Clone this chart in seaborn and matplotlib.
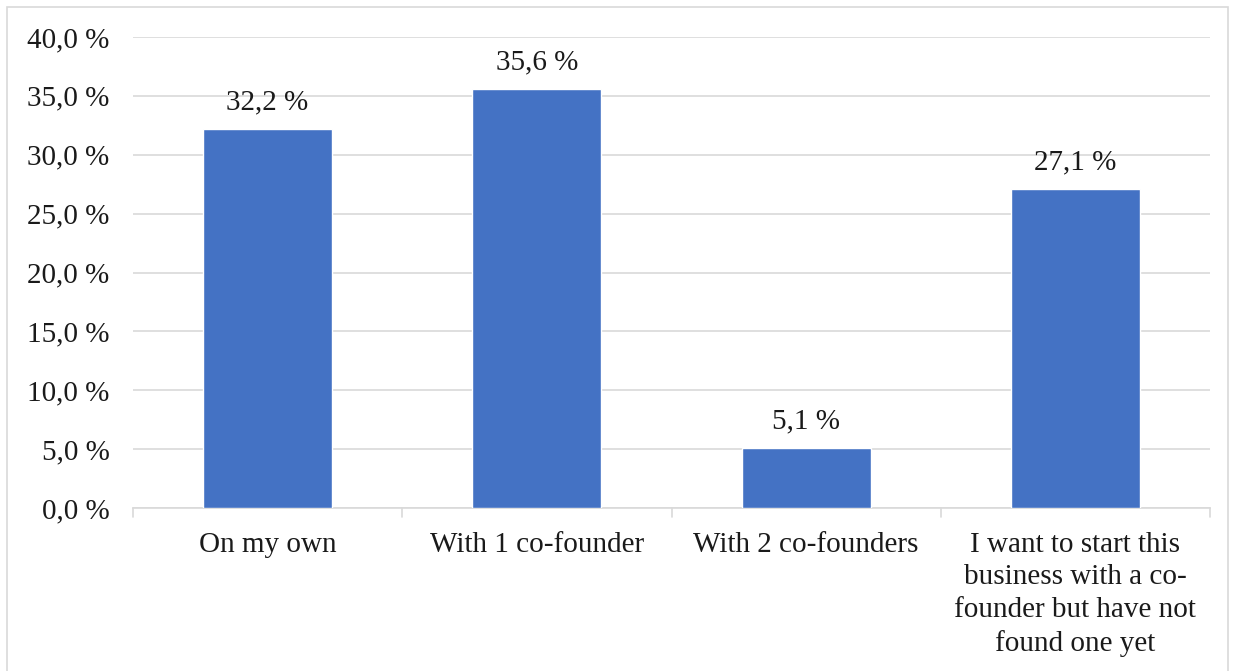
import matplotlib
matplotlib.use("Agg")
import matplotlib.pyplot as plt
import numpy as np
import pandas as pd
import seaborn as sns
from matplotlib.patches import Rectangle

categories = [
    "On my own",
    "With 1 co-founder",
    "With 2 co-founders",
    "I want to start this\nbusiness with a co-\nfounder but have not\nfound one yet",
]
shares = [32.2, 35.6, 5.1, 27.1]
y_ticks = [0, 5, 10, 15, 20, 25, 30, 35, 40]

df = pd.DataFrame({"category": categories, "share": shares})

sns.set_theme(style="white")
plt.rcParams["font.family"] = ["Liberation Serif", "DejaVu Serif"]
text_color = "#1a1a1a"
fs = 21

W, H = 1234, 671
fig = plt.figure(figsize=(W / 100, H / 100), dpi=100)
ax = fig.add_axes([133 / W, 1 - 508 / H, (1210 - 133) / W, (508 - 37) / H])

sns.barplot(data=df, x="category", y="share", color="#4472C4", width=0.48,
            saturation=1, ax=ax, zorder=3)

ax.set_ylim(0, 40)
ax.set_xlim(-0.5, len(categories) - 0.5)
ax.set_yticks(y_ticks)
ax.set_yticklabels([f"{v:.1f}".replace(".", ",") + " %" for v in y_ticks],
                   fontsize=fs, color=text_color)
ax.yaxis.grid(True, color="#D9D9D9", linewidth=1.2, zorder=0)
ax.set_axisbelow(True)
ax.tick_params(axis="y", length=0, pad=17)

# category ticks at the boundaries, spreadsheet style
ax.set_xticks(np.arange(len(categories)))
ax.set_xticklabels(categories, fontsize=fs, color=text_color, linespacing=1.33)
ax.tick_params(axis="x", length=0, pad=17)
for b in np.arange(-0.5, len(categories), 1):
    ax.plot([b, b], [0, -0.8], color="#D9D9D9", lw=1.2, clip_on=False)

ax.set_xlabel("")
ax.set_ylabel("")
for s in ["top", "right", "left"]:
    ax.spines[s].set_visible(False)
ax.spines["bottom"].set_color("#D9D9D9")
ax.spines["bottom"].set_linewidth(1.2)

for i, v in enumerate(shares):
    ax.annotate(f"{v:.1f}".replace(".", ",") + " %", (i, v), xytext=(0, 10),
                textcoords="offset points", ha="center", va="bottom",
                fontsize=fs, color=text_color)

fig.patches.append(Rectangle((7 / W, -0.01), (1228 - 7) / W, 1 - 7 / H + 0.01,
                             transform=fig.transFigure, fill=False,
                             edgecolor="#D9D9D9", linewidth=1.2))

fig.savefig("out.png", dpi=100)
